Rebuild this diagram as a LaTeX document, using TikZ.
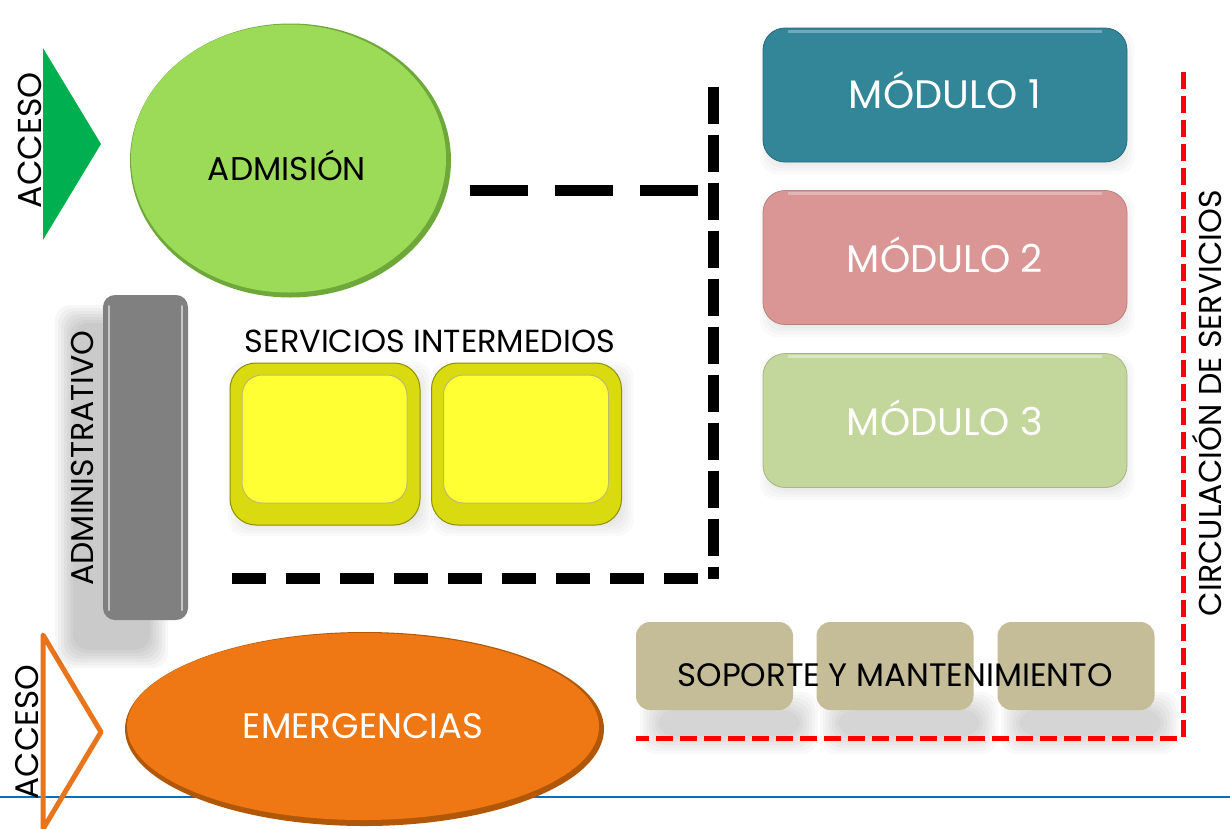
\documentclass[tikz,border=0pt]{standalone}
\usepackage{fontspec}
\setmainfont{Poppins}
\usetikzlibrary{shapes.geometric}
\definecolor{accgreen}{HTML}{00B050}
\definecolor{admfill}{HTML}{9BDB58}
\definecolor{admrim}{HTML}{6FA83A}
\definecolor{grayfill}{HTML}{808080}
\definecolor{yelfill}{HTML}{FFFF33}
\definecolor{yelrim}{HTML}{DADA10}
\definecolor{yeldark}{HTML}{8F8F00}
\definecolor{modA}{HTML}{338598}
\definecolor{modB}{HTML}{D99694}
\definecolor{modC}{HTML}{C3D69B}
\definecolor{soport}{HTML}{C4BD97}
\definecolor{emfill}{HTML}{F07814}
\definecolor{emrim}{HTML}{B05808}
\definecolor{accorange}{HTML}{E8741C}
\definecolor{redline}{HTML}{FF0000}
\definecolor{blueline}{HTML}{0070C0}
\newcommand\fitw[2]{\resizebox{#1}{!}{#2}}
\newcommand\softshadow[5]{%
  \foreach \k in {0,3,...,18}{\fill[black,opacity=#5,rounded corners=16pt] ({#1+\k},{#2+\k}) rectangle ({#3-\k},{#4-\k});}}
\begin{document}
\begin{tikzpicture}[x=1pt,y=-1pt,
  every node/.style={inner sep=0pt,outer sep=0pt},
  lbl/.style={anchor=base, text=black},
  vlbl/.style={anchor=base, rotate=90, text=black},
  modbox/.style={rectangle, rounded corners=22pt, minimum width=364pt, minimum height=134pt, line width=0.8pt},
  yelbox/.style={rectangle, rounded corners=26pt, minimum width=190pt, minimum height=162pt, fill=yelrim, draw=yeldark, line width=1pt},
  yelin/.style={rectangle, rounded corners=20pt, minimum width=165pt, minimum height=128pt, fill=yelfill, draw=yeldark!60, line width=1pt},
  supbox/.style={rectangle, rounded corners=14pt, minimum width=157pt, minimum height=88pt, fill=soport},
  blackdash/.style={line width=11pt, black},
  reddash/.style={line width=5pt, redline, dash pattern=on 17pt off 7pt},
]
\useasboundingbox (0,0) rectangle (1230,828);
\fill[white] (0,0) rectangle (1230,828);

% base line
\coordinate (bl) at (0,797); \coordinate (br) at (1230,797);
\draw[blueline, line width=2.5pt] (bl) -- (br);

% access arrows
\fill[accgreen] (43,48) -- (101,144) -- (43,240) -- cycle;
\draw[accorange, line width=5pt, line join=round] (43,635) -- (101,732) -- (43,829) -- cycle;
\node[vlbl] (acc1) at (41,140) {\fitw{136pt}{ACCESO}};
\node[vlbl] (acc2) at (38,732) {\fitw{134pt}{ACCESO}};

% administrativo
\softshadow{55}{305}{168}{668}{0.03}
\node[rectangle, rounded corners=12pt, minimum width=85pt, minimum height=325pt, fill=grayfill] (adminbar) at (145.5,457.5) {};
\draw[white, opacity=0.55, line width=2pt, line cap=round] (109,306) -- (109,610);
\draw[white, opacity=0.55, line width=2pt, line cap=round] (182,306) -- (182,610);
\node[vlbl] (admin) at (93,458) {\fitw{255pt}{ADMINISTRATIVO}};

% admision
\node[ellipse, fill=admrim, minimum width=321pt, minimum height=274pt] (admrimN) at (290.5,160.5) {};
\node[ellipse, fill=admfill, minimum width=315pt, minimum height=268pt] (adm) at (288.5,158.5) {};
\node[lbl] (admtxt) at (287,180) {\fitw{158pt}{ADMISIÓN}};

% black dashed boundary
\coordinate (d1) at (470,190); \coordinate (d2) at (700,190);
\coordinate (v1) at (713,87); \coordinate (v2) at (713,579);
\coordinate (b1) at (232,578); \coordinate (b2) at (705,578);
\draw[blackdash, dash pattern=on 58pt off 27pt] (d1) -- (d2);
\draw[blackdash, dash pattern=on 37pt off 11pt] (v1) -- (v2);
\draw[blackdash, dash pattern=on 34pt off 20pt] (b1) -- (b2);

% modules
\softshadow{760}{30}{1134}{174}{0.018}
\softshadow{760}{192}{1134}{337}{0.018}
\softshadow{760}{355}{1134}{500}{0.018}
\node[modbox, fill=modA, draw=modA!80!black] (m1) at (945,95) {};
\node[modbox, fill=modB, draw=modB!85!black] (m2) at (945,257.5) {};
\node[modbox, fill=modC, draw=modC!85!black] (m3) at (945,420.5) {};
\draw[white, opacity=0.3, line width=3pt] (788,31) -- (1102,31);
\draw[white, opacity=0.3, line width=3pt] (788,193) -- (1102,193);
\draw[white, opacity=0.4, line width=3pt] (788,356) -- (1102,356);
\node[lbl, text=white] (m1t) at (945,108) {\fitw{192pt}{MÓDULO 1}};
\node[lbl, text=white] (m2t) at (945,272) {\fitw{196pt}{MÓDULO 2}};
\node[lbl, text=white] (m3t) at (945,435) {\fitw{196pt}{MÓDULO 3}};

% servicios intermedios
\softshadow{228}{362}{432}{536}{0.02}
\softshadow{431}{362}{634}{536}{0.02}
\node[yelbox] (y1) at (325,444) {};
\node[yelbox] (y2) at (526.5,444) {};
\node[yelin] (y1in) at (324.5,439) {};
\node[yelin] (y2in) at (526,439) {};
\node[lbl] (sitxt) at (430,352) {\fitw{370pt}{SERVICIOS INTERMEDIOS}};

% soporte
\softshadow{640}{692}{818}{754}{0.025}
\softshadow{820}{692}{998}{754}{0.025}
\softshadow{1001}{692}{1179}{754}{0.025}
\node[supbox] (s1) at (714.5,666) {};
\node[supbox] (s2) at (895,666) {};
\node[supbox] (s3) at (1076,666) {};
\node[lbl] (sptxt) at (895,686) {\fitw{435pt}{SOPORTE Y MANTENIMIENTO}};

% red dashed circulation
\coordinate (r1) at (1183,72); \coordinate (r2) at (1183,738); \coordinate (r3) at (636,738);
\draw[reddash] (r1) -- (r2) -- (r3);
\node[vlbl] (circ) at (1221,403) {\fitw{426pt}{CIRCULACIÓN DE SERVICIOS}};

% emergencias
\node[ellipse, fill=emrim, minimum width=479pt, minimum height=194pt] (emrimN) at (364.5,729) {};
\node[ellipse, fill=emfill, minimum width=472pt, minimum height=187pt] (emg) at (363,726.5) {};
\node[lbl, text=white] (emtxt) at (363,738) {\fitw{240pt}{EMERGENCIAS}};
\end{tikzpicture}
\end{document}
